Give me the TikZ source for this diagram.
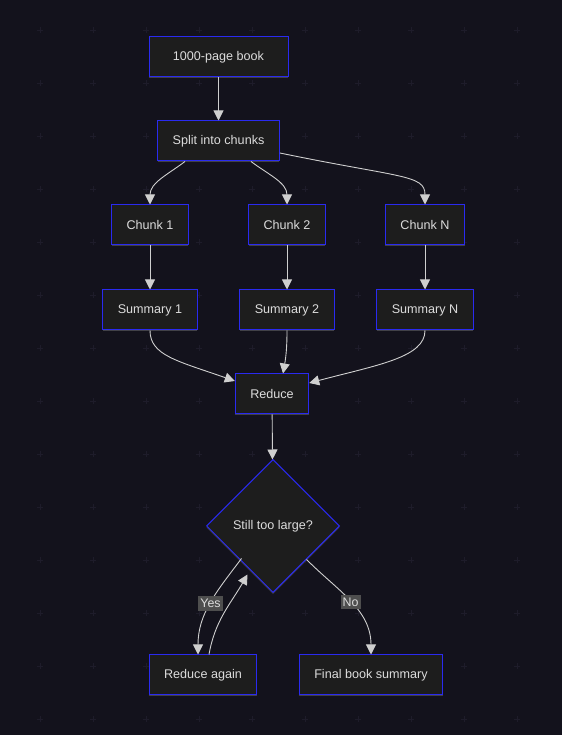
\documentclass[tikz,border=0pt]{standalone}
\usepackage{fontspec}
\setmainfont{Liberation Sans}
\usetikzlibrary{arrows.meta, shapes.geometric, shadows}

\definecolor{fundal}{HTML}{13121C}
\definecolor{grila}{HTML}{1E1C2A}
\definecolor{cutie}{HTML}{1D1D1D}
\definecolor{margine}{HTML}{2A2AF0}
\definecolor{scris}{HTML}{DCDCDC}
\definecolor{linie}{HTML}{CFCFCF}
\definecolor{eticheta}{HTML}{4E4E4E}

\begin{document}
\begin{tikzpicture}[x=1pt, y=1pt]
        % Fundalul si grila.
        \useasboundingbox (0,0) rectangle (562,735);
        \fill[fundal] (0,0) rectangle (562,735);
        \foreach \x in {40,93,...,560}
            \foreach \y in {705,652,...,0}
                \draw[grila, line width=0.8] (\x-3,\y) -- (\x+3,\y) (\x,\y-3) -- (\x,\y+3);

        % Stilurile.
        \tikzstyle{nodebox} = [draw=margine, fill=cutie, line width=1, text=scris,
            minimum height=40, inner xsep=15, font=\fontsize{12.6}{14}\selectfont,
            drop shadow={shadow xshift=0pt, shadow yshift=-1.5pt, fill=gray!80, opacity=0.35}]
        \tikzstyle{choice} = [nodebox, diamond, aspect=1, minimum width=133, minimum height=133, inner sep=0]
        \tikzstyle{arrow} = [draw=linie, line width=0.9, -{Triangle[length=10pt, width=10pt, fill=linie]}]
        \tikzstyle{tag} = [fill=eticheta, text=scris, inner xsep=2pt, inner ysep=3pt, font=\fontsize{12.4}{14}\selectfont]

        % Nodurile.
        \node[nodebox, minimum width=139] (book) at (218.5,678) {1000-page book};
        \node[nodebox] (split) at (218.5,594) {Split into chunks};
        \node[nodebox] (c1) at (150,510) {Chunk 1};
        \node[nodebox] (c2) at (287,510) {Chunk 2};
        \node[nodebox] (cN) at (425,510) {Chunk N};
        \node[nodebox] (s1) at (150,425) {Summary 1};
        \node[nodebox] (s2) at (287,425) {Summary 2};
        \node[nodebox] (sN) at (425,425) {Summary N};
        \node[nodebox] (reduce) at (272,341) {Reduce};
        \node[choice] (check) at (273,209) {Still too large?};
        \node[nodebox] (again) at (203,60) {Reduce again};
        \node[nodebox] (final) at (371,60) {Final book summary};
        \coordinate (retur) at ([shift={(8,-15)}]check.south west);

        % Legaturile.
        \path[every edge/.style={arrow}]
            (book) edge (split)
            ([xshift=-33.5]split.south) edge[out=-143, in=90] (c1.north)
            ([xshift=32.5]split.south) edge[out=-37, in=90] (c2.north)
            (c1) edge (s1)
            (c2) edge (s2)
            (cN) edge (sN)
            (s2.south) edge[out=-90, in=80] ([xshift=11]reduce.north)
            (reduce) edge (check);
        \draw[arrow] ([yshift=-12]split.east) .. controls +(121,-25) and +(0,30) .. (cN.north);
        \draw[arrow] (s1.south) .. controls +(0,-25) and +(-57,20) .. ([yshift=13]reduce.west);
        \draw[arrow] (sN.south) .. controls +(0,-27) and +(68,18) .. ([yshift=11]reduce.east);

        % Decizia.
        \path[every edge/.style={arrow}]
            ([shift={(2,1)}]check.south west) edge[out=-127, in=90] node[tag]{Yes} ([xshift=-5]again.north)
            ([xshift=6]again.north) edge[out=80, in=-120] (retur)
            (check.south east) edge[out=-45, in=90] node[tag]{No} (final.north);
    \end{tikzpicture}
\end{document}
